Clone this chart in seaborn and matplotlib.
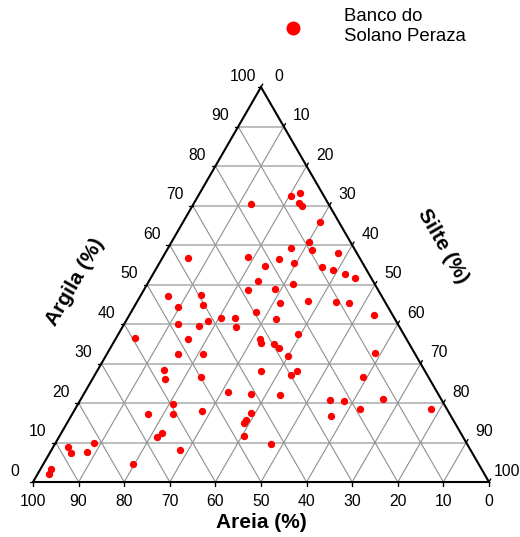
import numpy as np
import pandas as pd
import matplotlib
matplotlib.use("Agg")
import matplotlib.pyplot as plt
import seaborn as sns

# Soil texture samples (percent): sand, clay, silt
areia = [59.4, 66.1, 67.0, 65.5, 81.6, 87.9, 88.0, 84.2, 94.4, 95.6,
         75.8, 17.0, 37.8, 24.4, 21.8, 17.7, 25.2, 28.4, 22.5, 47.0,
         39.5, 23.1, 46.2, 40.3, 29.6, 37.9, 34.8, 41.3, 26.1, 48.2,
         43.7, 35.9, 47.8, 32.2, 32.4, 29.7, 29.2, 52.0, 46.6, 57.2,
         58.0, 49.8, 35.9, 45.8, 41.0, 34.9, 59.3, 60.7, 54.0, 43.4,
         46.2, 45.4, 47.9, 43.0, 63.8, 7.2, 5.0, 6.4, 6.1, 4.1,
         9.1, 13.9, 9.4, 4.1, 15.1, 9.4, 7.4, 5.2, 3.5, 17.9,
         16.9, 10.8, 8.0, 4.0, 23.1, 28.1, 8.6, 28.1, 29.9, 14.3,
         24.5, 21.4, 12.8, 18.9, 26.3, 3.5]
argila = [36.4, 17.2, 11.4, 12.3, 9.9, 8.8, 7.4, 7.7, 3.4, 2.0,
          4.5, 70.4, 56.6, 57.1, 54.6, 56.5, 50.8, 48.7, 48.9, 47.0,
          47.3, 45.4, 44.2, 44.8, 43.0, 41.6, 41.6, 40.8, 41.4, 40.1,
          39.6, 39.2, 36.2, 36.1, 35.3, 34.9, 33.9, 32.5, 32.3, 28.3,
          26.0, 26.7, 28.0, 22.8, 22.3, 22.0, 19.8, 17.1, 17.9, 17.4,
          15.0, 15.7, 11.7, 9.6, 8.1, 72.3, 73.1, 70.6, 69.9, 65.9,
          60.9, 59.2, 58.7, 58.0, 55.4, 54.5, 53.7, 52.7, 51.6, 50.1,
          45.8, 45.5, 45.3, 42.3, 37.4, 31.8, 32.6, 28.2, 27.1, 26.6,
          20.8, 20.6, 21.0, 18.6, 16.6, 18.5]
silte = [4.2, 16.7, 21.6, 22.2, 8.5, 3.3, 4.6, 8.1, 2.2, 2.4,
         19.7, 12.6, 5.6, 18.5, 23.6, 25.8, 24.0, 22.9, 28.6, 6.0,
         13.2, 31.5, 9.6, 14.9, 27.4, 20.5, 23.6, 17.9, 32.5, 11.7,
         16.7, 24.9, 16.0, 31.7, 32.3, 35.4, 36.9, 15.5, 21.1, 14.5,
         16.0, 23.5, 36.1, 31.4, 36.7, 43.1, 20.9, 22.2, 28.1, 39.2,
         38.8, 38.9, 40.4, 47.4, 28.1, 20.5, 21.9, 23.0, 24.0, 30.0,
         30.0, 26.9, 31.9, 37.9, 29.5, 36.1, 38.9, 42.1, 44.9, 32.0,
         37.3, 43.7, 46.7, 53.7, 39.5, 40.1, 58.8, 43.7, 43.0, 59.1,
         54.7, 58.0, 66.2, 62.5, 57.1, 78.0]

tick_values = list(range(0, 101, 10))
serie_label = "Banco do\nSolano Peraza"

sns.set_style("white")
plt.rcParams["font.family"] = ["Liberation Sans", "DejaVu Sans"]
plt.rcParams["text.color"] = "black"

H = np.sqrt(3) / 2

# Ternary -> cartesian: sand at lower left, silt at lower right, clay at top
df = pd.DataFrame({"areia": areia, "argila": argila, "silte": silte})
tot = df[["areia", "argila", "silte"]].sum(axis=1)
df["x"] = (df["silte"] + df["argila"] / 2) / tot
df["y"] = df["argila"] / tot * H

W, Hpx = 520, 537
S = 456.0           # pixels per unit side
X0, Y0 = 33.0, 482.0  # pixel position of the sand vertex

fig = plt.figure(figsize=(W / 100, Hpx / 100), dpi=100)
ax = fig.add_axes([0, 0, 1, 1])
ax.set_xlim(-X0 / S, (W - X0) / S)
ax.set_ylim(-(Hpx - Y0) / S, Y0 / S)
ax.axis("off")

px = 1.0 / S  # one pixel in data units

# grid
hcol, dcol = "#b8b8b8", "#8f8f8f"
for i in range(1, 10):
    f = i / 10
    # constant clay (horizontal)
    ax.plot([f / 2, 1 - f / 2], [f * H, f * H], color=hcol, lw=1.3, zorder=1)
    # constant silt (parallel to left side)
    ax.plot([f, f + (1 - f) / 2], [0, (1 - f) * H], color=dcol, lw=0.8, zorder=1)
    # constant sand (parallel to right side)
    ax.plot([f, f / 2], [0, f * H], color=dcol, lw=0.8, zorder=1)

# triangle outline
ax.plot([0, 1, 0.5, 0], [0, 0, H, 0], color="black", lw=1.5, zorder=3,
        solid_joinstyle="miter")

tl = 3.5 * px
fs_tick = 11.3
for v in tick_values:
    f = v / 100
    # clay ticks on the left side
    lx, ly = f / 2, f * H
    ax.plot([lx, lx - tl], [ly, ly], color="black", lw=1, zorder=3)
    ax.text(lx - 18 * px, ly + 11 * px, str(v), ha="center", va="center",
            fontsize=fs_tick, color="black")
    # silt ticks on the right side
    rx, ry = 0.5 + f / 2, (1 - f) * H
    ax.plot([rx, rx + tl * 0.5], [ry, ry + tl * H], color="black", lw=1, zorder=3)
    ax.text(rx + 18 * px, ry + 11 * px, str(v), ha="center", va="center",
            fontsize=fs_tick, color="black")
    # sand ticks on the bottom
    bx = 1 - f
    ax.plot([bx, bx], [0, -tl], color="black", lw=1, zorder=3)
    ax.text(bx, -20 * px, str(v), ha="center", va="center", fontsize=fs_tick,
            color="black")

def pix(xp, yp):
    return (xp - X0) / S, (Y0 - yp) / S

ax.text(*pix(261, 522), "Areia (%)", ha="center", va="center",
        fontsize=15, fontweight="bold", color="black")
ax.text(*pix(75, 282), "Argila (%)", ha="center", va="center",
        fontsize=15, fontweight="bold", rotation=60, rotation_mode="anchor",
        color="black")
ax.text(*pix(443, 246), "Silte (%)", ha="center", va="center",
        fontsize=15, fontweight="bold", rotation=-60, rotation_mode="anchor",
        color="black")

sns.scatterplot(data=df, x="x", y="y", color="#ff0000", s=28, linewidth=0,
                label=serie_label, ax=ax, zorder=4, clip_on=False)

leg = ax.legend(loc="upper left", bbox_to_anchor=pix(274, 8),
                bbox_transform=ax.transData, frameon=False, markerscale=1.9,
                fontsize=13.4, handletextpad=1.74, borderpad=0, borderaxespad=0,
                handlelength=2.0)
for t in leg.get_texts():
    t.set_color("black")

fig.savefig("out.png", dpi=100)
